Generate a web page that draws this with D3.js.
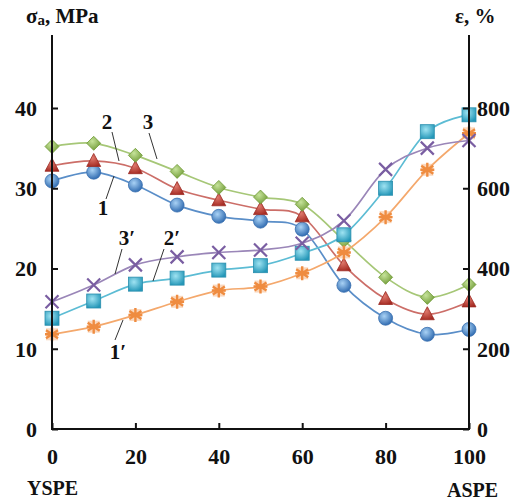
<!DOCTYPE html>
<html>
<head>
<meta charset="utf-8">
<script src="https://cdn.jsdelivr.net/npm/d3@7"></script>
<style>
  html, body { margin: 0; padding: 0; background: #fff; }
  svg text { font-family: "Liberation Serif", "Times New Roman", serif; font-weight: bold; fill: #111; }
</style>
</head>
<body>
<svg id="chart" width="525" height="503"></svg>
<script>
// Composition (% ASPE) along the x axis
const composition = [0, 10, 20, 30, 40, 50, 60, 70, 80, 90, 100];
const xTicks = [0, 20, 40, 60, 80, 100];
const leftTicks = [0, 10, 20, 30, 40];
const rightTicks = [0, 200, 400, 600, 800];

// Tensile strength σa, MPa (left axis)
const sigma1 = [30.9, 32.0, 30.4, 27.9, 26.5, 25.9, 24.9, 17.9, 13.8, 11.8, 12.4];
const sigma2 = [32.8, 33.4, 32.5, 29.9, 28.5, 27.4, 26.5, 20.4, 16.2, 14.3, 15.9];
const sigma3 = [35.2, 35.6, 34.1, 32.1, 30.1, 28.9, 28.0, 23.5, 18.9, 16.4, 18.0];

// Elongation at break ε, % (right axis)
const eps1 = [236, 255, 284, 317, 345, 355, 388, 440, 528, 646, 737];
const eps2 = [276, 319, 361, 376, 396, 407, 438, 484, 600, 741, 783];
const eps3 = [317, 359, 409, 429, 440, 446, 463, 519, 647, 700, 719];

const svg = d3.select("#chart");
const x = d3.scaleLinear().domain([0, 100]).range([52, 469]);
const yL = d3.scaleLinear().domain([0, 40]).range([429, 108]);
const yR = d3.scaleLinear().domain([0, 800]).range([429, 108]);

// gradients for the glossy markers
const defs = svg.append("defs");
function radial(id, c0, c1) {
  const g = defs.append("radialGradient").attr("id", id)
    .attr("cx", "40%").attr("cy", "35%").attr("r", "70%");
  g.append("stop").attr("offset", "0%").attr("stop-color", c0);
  g.append("stop").attr("offset", "100%").attr("stop-color", c1);
}
radial("gBlue", "#a9d2f5", "#2a66ad");
radial("gRed", "#e07a6e", "#a52a22");
radial("gGreen", "#c6e39a", "#6f9a35");
radial("gCyan", "#9fe3f2", "#2497b8");

const series = [
  { vals: sigma1, y: yL, line: "#5a8ec8", marker: "circle", fill: "url(#gBlue)", stroke: "#3a70b0" },
  { vals: sigma2, y: yL, line: "#cc6e68", marker: "triangle", fill: "url(#gRed)", stroke: "#9c2a22" },
  { vals: sigma3, y: yL, line: "#a6c777", marker: "diamond", fill: "url(#gGreen)", stroke: "#6f9a35" },
  { vals: eps1, y: yR, line: "#f4a86c", marker: "star", fill: "#f6b888", stroke: "#ef8c40" },
  { vals: eps2, y: yR, line: "#5cbcd4", marker: "square", fill: "url(#gCyan)", stroke: "#2a8fae" },
  { vals: eps3, y: yR, line: "#9a86b8", marker: "cross", fill: "none", stroke: "#7a5ea2" }
];

const plot = svg.append("g");
series.forEach(s => {
  const pts = composition.map((c, i) => [x(c), s.y(s.vals[i])]);
  plot.append("path")
    .attr("d", d3.line().curve(d3.curveCardinal.tension(0))(pts))
    .attr("fill", "none").attr("stroke", s.line).attr("stroke-width", 1.7);
});

series.forEach(s => {
  const g = plot.append("g");
  composition.forEach((c, i) => {
    const cx = x(c), cy = s.y(s.vals[i]);
    const m = g.append("g").attr("transform", `translate(${cx},${cy})`);
    if (s.marker === "circle") {
      m.append("circle").attr("r", 7).attr("fill", s.fill).attr("stroke", s.stroke).attr("stroke-width", 0.8);
    } else if (s.marker === "triangle") {
      m.append("path").attr("d", "M0,-7.5L7,5.5L-7,5.5Z").attr("fill", s.fill).attr("stroke", s.stroke).attr("stroke-width", 0.8);
    } else if (s.marker === "diamond") {
      m.append("path").attr("d", "M0,-7L7,0L0,7L-7,0Z").attr("fill", s.fill).attr("stroke", s.stroke).attr("stroke-width", 0.8);
    } else if (s.marker === "square") {
      m.append("rect").attr("x", -7).attr("y", -7).attr("width", 14).attr("height", 14)
        .attr("fill", s.fill).attr("stroke", s.stroke).attr("stroke-width", 0.8);
    } else if (s.marker === "cross") {
      m.append("path").attr("d", "M-6.5,-6.5L6.5,6.5M-6.5,6.5L6.5,-6.5")
        .attr("stroke", s.stroke).attr("stroke-width", 2.2).attr("fill", "none");
    } else if (s.marker === "star") {
      m.append("rect").attr("x", -6).attr("y", -6).attr("width", 12).attr("height", 12)
        .attr("fill", s.fill).attr("opacity", 0.55);
      m.append("path").attr("d", "M0,-7L0,7M-6,-4L6,4M-6,4L6,-4M-7,0L7,0")
        .attr("stroke", s.stroke).attr("stroke-width", 2.4).attr("fill", "none");
    }
  });
});

// axes: inward ticks, bold serif labels
const axisW = 2;
const xAxis = d3.axisBottom(x).tickValues(xTicks).tickSize(-6).tickFormat(d3.format("d"));
const gx = svg.append("g").attr("transform", "translate(0,429)").call(xAxis);
gx.select(".domain").remove();
gx.selectAll("line").attr("stroke", "#111").attr("stroke-width", 2);
gx.selectAll("text").attr("font-size", 22).attr("dy", "1.05em").attr("y", 12);

const leftAxis = d3.axisLeft(yL).tickValues(leftTicks).tickSize(-6).tickFormat(d3.format("d"));
const gl = svg.append("g").attr("transform", "translate(52,0)").call(leftAxis);
gl.select(".domain").remove();
gl.selectAll("line").attr("stroke", "#111").attr("stroke-width", 2);
gl.selectAll("text").attr("font-size", 22).attr("x", -15).attr("dy", "0.34em");

const rightAxis = d3.axisRight(yR).tickValues(rightTicks).tickSize(-6).tickFormat(d3.format("d"));
const gr = svg.append("g").attr("transform", "translate(469,0)").call(rightAxis);
gr.select(".domain").remove();
gr.selectAll("line").attr("stroke", "#111").attr("stroke-width", 2);
gr.selectAll("text").attr("font-size", 22).attr("x", 8).attr("dy", "0.34em");

// axis lines
svg.append("path").attr("d", `M${x(0)},35V429H${x(100)}V35`)
  .attr("fill", "none").attr("stroke", "#111").attr("stroke-width", axisW);

// axis titles
const title = svg.append("text").attr("x", 26).attr("y", 23).attr("font-size", 21);
title.append("tspan").text("σ");
title.append("tspan").attr("font-size", 15).attr("dy", 2).text("a");
title.append("tspan").attr("dy", -2).text(", MPa");
svg.append("text").attr("x", 455).attr("y", 23).attr("font-size", 21).text("ε, %");

svg.append("text").attr("x", 27).attr("y", 495).attr("font-size", 20).text("YSPE");
svg.append("text").attr("x", 447).attr("y", 497).attr("font-size", 20).text("ASPE");

// curve labels with leader lines
const labels = [
  { t: "1", tx: 103, ty: 215, l: [106, 199, 114, 176] },
  { t: "2", tx: 107, ty: 129, l: [112, 132, 119, 161] },
  { t: "3", tx: 148, ty: 129, l: [149, 133, 157, 159] },
  { t: "1′", tx: 118, ty: 359, l: [115, 340, 123, 320] },
  { t: "2′", tx: 172, ty: 245, l: [164, 249, 153, 281] },
  { t: "3′", tx: 127, ty: 245, l: [122, 249, 115, 274] }
];
labels.forEach(d => {
  svg.append("line").attr("x1", d.l[0]).attr("y1", d.l[1]).attr("x2", d.l[2]).attr("y2", d.l[3])
    .attr("stroke", "#333").attr("stroke-width", 1);
  svg.append("text").attr("x", d.tx).attr("y", d.ty).attr("text-anchor", "middle")
    .attr("font-size", 21).text(d.t);
});
</script>
</body>
</html>
